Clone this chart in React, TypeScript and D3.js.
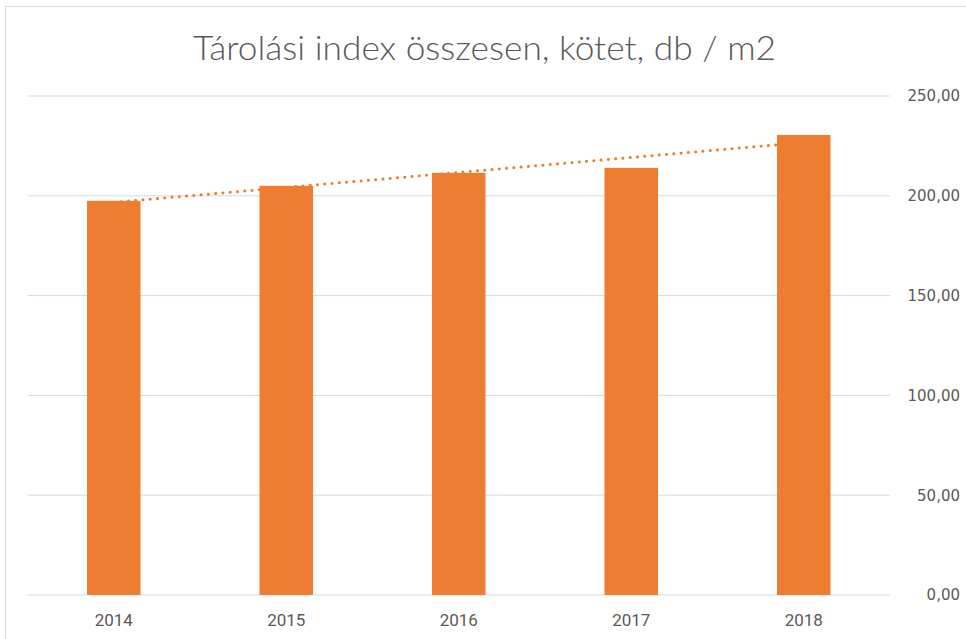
import React from "react";
import * as d3 from "d3";

const categories = ["2014", "2015", "2016", "2017", "2018"];
const values = [197.5, 205, 211.5, 214, 230.5];
const yTicks = [0, 50, 100, 150, 200, 250];
const title = "Tárolási index összesen, kötet, db / m2";

export default function App() {
  const W = 966, H = 639;
  const left = 27.5, right = 890, top = 96, bottom = 595;
  const x = d3.scaleBand<string>().domain(categories).range([left, right]).paddingInner(0.69).paddingOuter(0.345);
  const y = d3.scaleLinear().domain([0, 250]).range([bottom, top]);

  // linear trendline (least squares)
  const n = values.length;
  const xs = values.map((_, i) => i);
  const mx = d3.mean(xs)!;
  const my = d3.mean(values)!;
  const slope = d3.sum(xs.map((xi, i) => (xi - mx) * (values[i] - my))) / d3.sum(xs.map((xi) => (xi - mx) ** 2));
  const icpt = my - slope * mx;
  const trendPts: [number, number][] = categories.map((c, i) => [x(c)! + x.bandwidth() / 2, y(icpt + slope * i)]);
  const trendLine = d3.line()([trendPts[0], trendPts[n - 1]]) || "";

  const fmt = (v: number) => v.toFixed(2).replace(".", ",");

  return (
    <svg width={W} height={H} style={{ position: "absolute", left: 0, top: 0, background: "#fff" }}>
      <rect x={5.5} y={6.5} width={W} height={H} fill="#fff" stroke="#D9D9D9" strokeWidth={1} />
      <text x={484.5} y={60} textAnchor="middle" fontFamily="Lato, 'Open Sans', sans-serif" fontWeight={300} fontSize={34} textLength={583} lengthAdjust="spacingAndGlyphs" fill="#595959">
        {title}
      </text>
      {yTicks.map((t) => (
        <g key={t}>
          <line x1={left} x2={right} y1={y(t)} y2={y(t)} stroke="#D9D9D9" strokeWidth={1} />
          <text x={960} y={y(t)} dy="0.36em" textAnchor="end" fontFamily="'DejaVu Sans', Verdana, sans-serif" fontSize={15} fill="#595959">
            {fmt(t)}
          </text>
        </g>
      ))}
      {categories.map((c, i) => (
        <g key={c}>
          <rect x={x(c)!} y={y(values[i])} width={x.bandwidth()} height={y(0) - y(values[i])} fill="#ED7D31" />
          <text x={x(c)! + x.bandwidth() / 2} y={626} textAnchor="middle" fontFamily="Roboto, 'Open Sans', sans-serif" fontSize={17} fill="#595959">
            {c}
          </text>
        </g>
      ))}
      <path d={trendLine} fill="none" stroke="#ED7D31" strokeWidth={3} strokeDasharray="0.1 7.2" strokeLinecap="round" />
    </svg>
  );
}
